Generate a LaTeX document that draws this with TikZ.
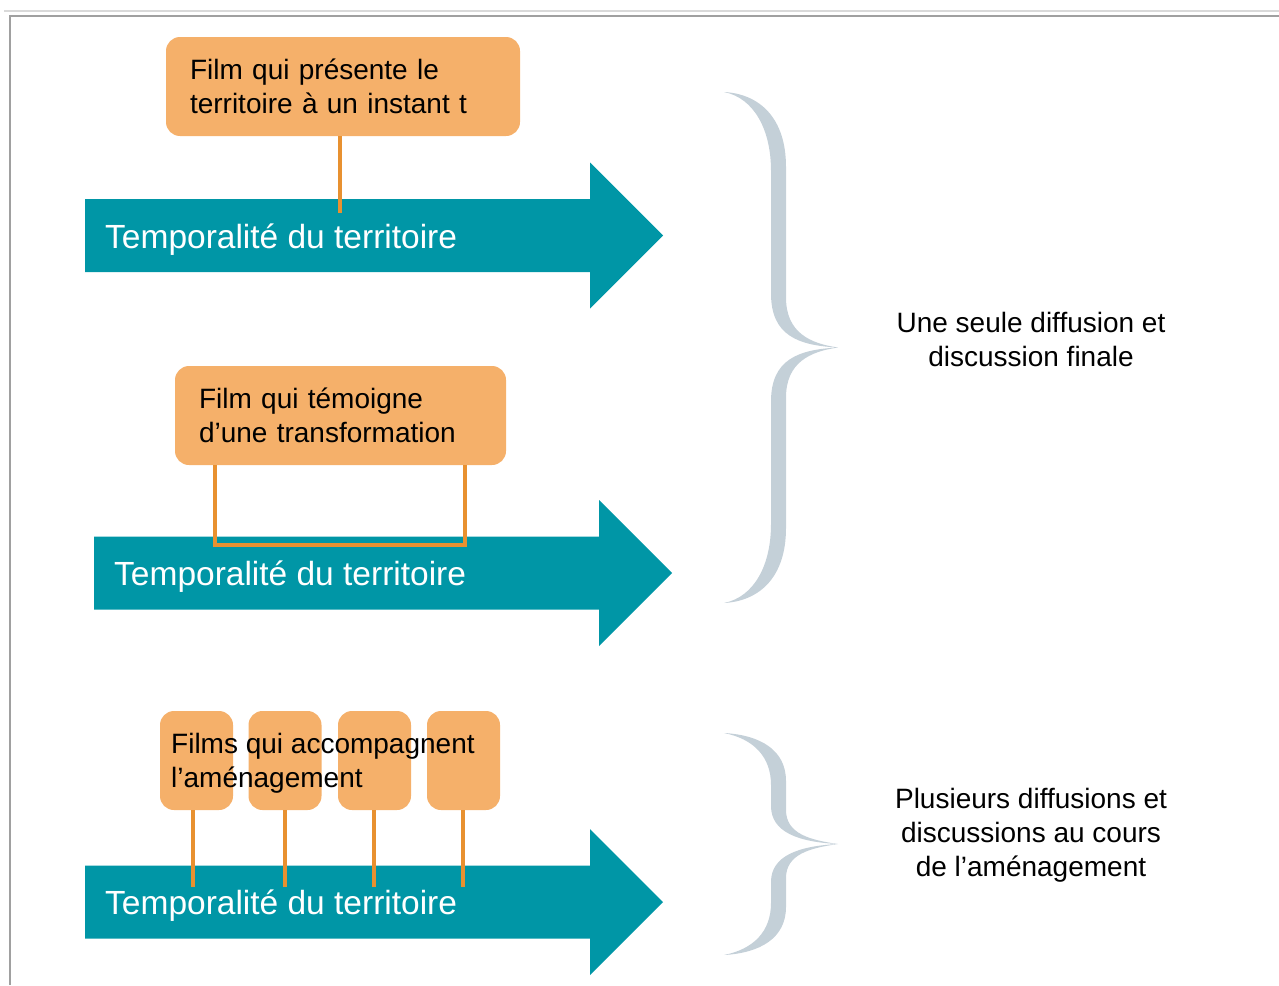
\documentclass[tikz,border=0pt]{standalone}
\usepackage{fontspec}
\setmainfont{Liberation Sans}
\usepackage{xcolor}
\usepackage{tikz}
\usetikzlibrary{positioning}

\definecolor{timeteal}{RGB}{0,150,166}
\definecolor{filmorange}{RGB}{245,176,106}
\definecolor{linkorange}{RGB}{232,145,48}
\definecolor{bracegray}{RGB}{196,208,216}
\definecolor{framegray}{RGB}{160,160,160}

\tikzset{
    filmbox/.style={fill=filmorange, rounded corners=14pt, inner sep=0pt},
    filmtext/.style={font=\fontsize{28}{34.5}\selectfont, align=left, inner sep=0pt},
    timetext/.style={font=\fontsize{33.5}{40}\selectfont, text=white, inner sep=0pt, anchor=west},
    notetext/.style={font=\fontsize{28}{34}\selectfont, align=center, inner sep=0pt},
    filmline/.style={linkorange, line width=3.5pt}
}

\begin{document}
\begin{tikzpicture}[x=1pt, y=-1pt]
    \useasboundingbox (0,0) rectangle (1279,985);

    % window frame
    \draw[framegray!40, line width=2pt] (4,11) -- (1279,11);
    \draw[framegray, line width=2pt] (10,985) -- (10,16) -- (1279,16);

    % the three time arrows
    \foreach \dx/\yc in {0/235.5, 9/573, 0/902} {
        \fill[timeteal] (85+\dx,\yc-36.5) -- (590+\dx,\yc-36.5) -- (590+\dx,\yc-73)
            -- (663+\dx,\yc) -- (590+\dx,\yc+73) -- (590+\dx,\yc+36.5)
            -- (85+\dx,\yc+36.5) -- cycle;
    }

    % Film at one instant
    \node[filmbox, minimum width=354pt, minimum height=99pt] (inst) at (343,86.5) {};
    \node[filmtext, text width=306pt] (insttxt) at (inst) {Film qui présente le\\territoire à un instant t};
    \coordinate (instend) at (340,213);
    \draw[filmline] (inst.south -| instend) -- (instend);
    \node[timetext] (time1) at (105,240) {Temporalité du territoire};

    % Film over a transformation
    \node[filmbox, minimum width=331pt, minimum height=99pt] (trans) at (340.5,415.5) {};
    \node[filmtext, text width=283pt] (transtxt) at (trans) {Film qui témoigne\\d’une transformation};
    \coordinate (transa) at (215,545);
    \coordinate (transb) at (465,545);
    \draw[filmline] (trans.south -| transa) -- (transa) -- (transb) -- (trans.south -| transb);
    \node[timetext] (time2) at (114,577) {Temporalité du territoire};

    % Films along the work
    \foreach \xc/\xl [count=\i] in {196.5/193, 285/285, 374.5/374, 463.5/463} {
        \node[filmbox, minimum width=73pt, minimum height=99pt] (step\i) at (\xc,760.5) {};
        \coordinate (stepend\i) at (\xl,887);
        \draw[filmline] (step\i.south -| stepend\i) -- (stepend\i);
    }
    \node[filmtext, anchor=north west] (stepstxt) at (171,733) {Films qui accompagnent\\l’aménagement};
    \node[timetext] (time3) at (105,906) {Temporalité du territoire};

    % braces
    \foreach \ya/\yb/\ec/\mc in {92/603/75/50, 733/955/48/34} {
        \pgfmathsetmacro{\ym}{(\ya+\yb)/2}
        \fill[bracegray] (724,\ya) .. controls (760,\ya+2) and (786,\ya+\ec*0.35) .. (786,\ya+\ec)
            -- (786,\ym-\mc) .. controls (786,\ym-\mc*0.3) and (810,\ym-4) .. (838,\ym)
            .. controls (810,\ym+4) and (786,\ym+\mc*0.3) .. (786,\ym+\mc)
            -- (786,\yb-\ec) .. controls (786,\yb-\ec*0.35) and (760,\yb-2) .. (724,\yb)
            .. controls (754,\yb-6) and (771,\yb-\ec*0.5) .. (771,\yb-\ec-4)
            -- (771,\ym+\mc+4) .. controls (771,\ym+12) and (798,\ym+2) .. (838,\ym)
            .. controls (798,\ym-2) and (771,\ym-12) .. (771,\ym-\mc-4)
            -- (771,\ya+\ec+4) .. controls (771,\ya+\ec*0.5) and (754,\ya+6) .. (724,\ya) -- cycle;
    }

    % right-hand notes
    \node[notetext] (note1) at (1031,339) {Une seule diffusion et\\discussion finale};
    \node[notetext] (note2) at (1031,835) {Plusieurs diffusions et\\discussions au cours\\de l’aménagement};
\end{tikzpicture}
\end{document}
